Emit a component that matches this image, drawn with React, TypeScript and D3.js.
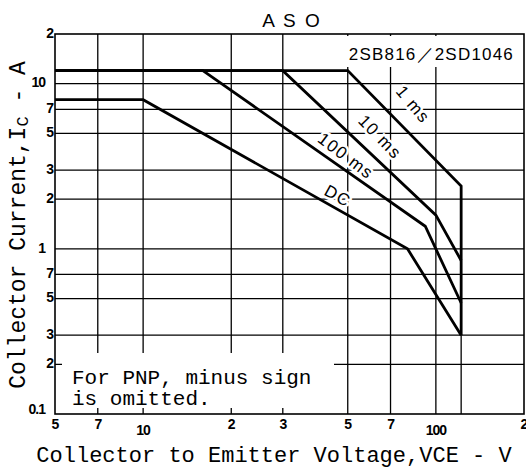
import { useEffect, useRef } from 'react';
import * as d3 from 'd3';

// grid / tick values
const xTicks = [5, 7, 10, 20, 30, 50, 70, 100, 200];
const xTickLabels = ['5', '7', '10', '2', '3', '5', '7', '100', '2'];
const yTicks = [0.1, 0.2, 0.3, 0.5, 0.7, 1, 2, 3, 5, 7, 10, 20];
const yTickLabels = ['0.1', '2', '3', '5', '7', '1', '2', '3', '5', '7', '10', '2'];
const decades = [0.1, 1, 10, 100];

// safe operating area boundaries (VCE [V], IC [A])
const vceLimit = 122;
const curveDC = [[5, 8], [10, 8], [80, 1], [vceLimit, 0.3]];
const curve100ms = [[5, 12], [16, 12], [92, 1.37], [vceLimit, 0.47]];
const curve10ms = [[5, 12], [30, 12], [100, 1.6], [vceLimit, 0.85]];
const curve1ms = [[5, 12], [50, 12], [vceLimit, 2.4], [vceLimit, 0.3]];

const curveLabels = [
  { text: '1 ms', v: 83, i: 7.4, angle: 50 },
  { text: '10 ms', v: 64, i: 4.7, angle: 46 },
  { text: '100 ms', v: 49, i: 3.6, angle: 37 },
  { text: 'DC', v: 46, i: 2.06, angle: 29 }
];

const mono = '"Liberation Mono", "Courier New", monospace';
const sans = '"Liberation Sans", Arial, sans-serif';

export default function App() {
  const svgRef = useRef(null);

  useEffect(() => {
    if (!svgRef.current) return;
    const width = 526;
    const height = 469;

    const svg = d3.select(svgRef.current);
    svg.selectAll('*').remove();
    svg.attr('width', width).attr('height', height);

    svg.append('rect').attr('width', width).attr('height', height).attr('fill', '#fff');

    const x = d3.scaleLog().domain([5, 200]).range([55, 524]);
    const y = d3.scaleLog().domain([0.1, 20]).range([414, 34]);

    const grid = svg.append('g').attr('stroke', '#000').attr('stroke-width', 1.3);

    // horizontal grid
    grid.selectAll('.hg')
      .data(yTicks.filter(d => d > 0.1 && d < 20))
      .enter()
      .append('line')
      .attr('x1', x(5)).attr('x2', x(200))
      .attr('y1', d => y(d)).attr('y2', d => y(d));

    // vertical grid
    grid.selectAll('.vg')
      .data(xTicks.filter(d => d > 5 && d < 200))
      .enter()
      .append('line')
      .attr('x1', d => x(d)).attr('x2', d => x(d))
      .attr('y1', y(20)).attr('y2', y(0.1));

    grid.append('line')
      .attr('x1', x(vceLimit)).attr('x2', x(vceLimit))
      .attr('y1', y(0.3)).attr('y2', y(0.1));

    // frame
    svg.append('rect')
      .attr('x', x(5)).attr('y', y(20))
      .attr('width', x(200) - x(5)).attr('height', y(0.1) - y(20))
      .attr('fill', 'none').attr('stroke', '#000').attr('stroke-width', 1.6);

    // white boxes behind the notes
    svg.append('rect').attr('x', 338).attr('y', y(20) + 2).attr('width', 184).attr('height', 31).attr('fill', '#fff');
    svg.append('rect').attr('x', 62).attr('y', 353).attr('width', 272).attr('height', 55).attr('fill', '#fff');

    const line = d3.line().x(d => x(d[0])).y(d => y(d[1]));
    const curves = svg.append('g')
      .attr('fill', 'none').attr('stroke', '#000').attr('stroke-width', 2.8)
      .attr('stroke-linejoin', 'miter');
    [curveDC, curve100ms, curve10ms, curve1ms].forEach(c => {
      curves.append('path').attr('d', line(c));
    });

    // curve labels
    svg.selectAll('.cl')
      .data(curveLabels)
      .enter()
      .append('text')
      .attr('transform', d => `translate(${x(d.v)},${y(d.i)}) rotate(${d.angle})`)
      .attr('text-anchor', 'middle')
      .attr('dominant-baseline', 'middle')
      .attr('font-family', sans)
      .attr('font-size', 17)
      .attr('letter-spacing', 1.5)
      .attr('fill', '#000')
      .attr('stroke', '#fff')
      .attr('stroke-width', 5)
      .attr('paint-order', 'stroke')
      .text(d => d.text);

    // y tick labels
    svg.selectAll('.yl')
      .data(yTicks)
      .enter()
      .append('text')
      .attr('x', d => (decades.includes(d) ? 45 : 53))
      .attr('y', d => y(d) + (d === 0.1 ? -4 : 0))
      .attr('text-anchor', 'end')
      .attr('dominant-baseline', 'middle')
      .attr('font-family', sans)
      .attr('font-weight', 'bold')
      .attr('font-size', 14)
      .attr('letter-spacing', -1)
      .text((d, i) => yTickLabels[i]);

    // x tick labels
    svg.selectAll('.xl')
      .data(xTicks)
      .enter()
      .append('text')
      .attr('x', d => x(d))
      .attr('y', d => (decades.includes(d) ? 435 : 429))
      .attr('text-anchor', 'middle')
      .attr('font-family', sans)
      .attr('font-weight', 'bold')
      .attr('font-size', 14)
      .attr('letter-spacing', -1)
      .text((d, i) => xTickLabels[i]);

    // titles
    svg.append('text')
      .attr('x', 292).attr('y', 27)
      .attr('text-anchor', 'middle')
      .attr('font-family', sans)
      .attr('font-size', 19)
      .attr('letter-spacing', 2)
      .text('A S O');

    svg.append('text')
      .attr('x', 514).attr('y', 60)
      .attr('text-anchor', 'end')
      .attr('font-family', sans)
      .attr('font-size', 17)
      .attr('letter-spacing', 1.2)
      .text('2SB816／2SD1046');

    svg.append('text')
      .attr('x', 274).attr('y', 462)
      .attr('text-anchor', 'middle')
      .attr('font-family', mono)
      .attr('font-size', 22)
      .text('Collector to Emitter Voltage,VCE - V');

    const yTitle = svg.append('text')
      .attr('transform', 'translate(25,225) rotate(-90)')
      .attr('text-anchor', 'middle')
      .attr('font-family', mono)
      .attr('font-size', 23);
    yTitle.append('tspan').text('Collector Current,I');
    yTitle.append('tspan').attr('font-size', 17).attr('dy', 3).text('C');
    yTitle.append('tspan').attr('dy', -3).text(' - A');

    const note = svg.append('text')
      .attr('font-family', mono)
      .attr('font-size', 21);
    note.append('tspan').attr('x', 72).attr('y', 384).text('For PNP, minus sign');
    note.append('tspan').attr('x', 72).attr('y', 405).text('is omitted.');
  }, []);

  return <svg ref={svgRef} style={{ position: 'absolute', left: 0, top: 0 }} />;
}
